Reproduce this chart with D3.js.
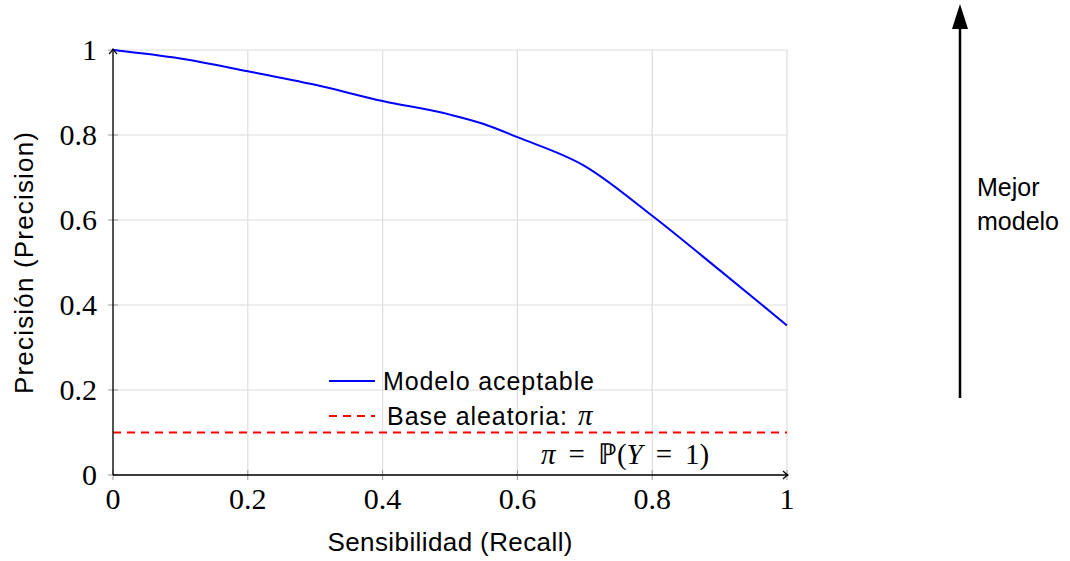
<!DOCTYPE html>
<html>
<head>
<meta charset="utf-8">
<script src="https://cdn.jsdelivr.net/npm/d3@7"></script>
<style>
  body { margin: 0; background: #fff; }
  .tick-label { font-family: "Liberation Serif", serif; font-size: 30px; fill: #000; }
  .sans { font-family: "Liberation Sans", sans-serif; fill: #000; }
</style>
</head>
<body>
<div id="chart"></div>
<script>
// data
var recall    = [0, 0.1, 0.2, 0.3, 0.4, 0.5, 0.55, 0.6, 0.7, 0.8, 0.9, 1.0];
var precision = [1.0, 0.98, 0.95, 0.918, 0.88, 0.848, 0.826, 0.795, 0.727, 0.61, 0.482, 0.352];
var baseline = 0.1;
var xTicks = [0, 0.2, 0.4, 0.6, 0.8, 1];
var yTicks = [0, 0.2, 0.4, 0.6, 0.8, 1];
var tickText = ["0", "0.2", "0.4", "0.6", "0.8", "1"];

var svgWidth = 1070, svgHeight = 561;
var margin = { left: 113, top: 50 };
var width = 674, height = 425;

var svg = d3.select("#chart").append("svg")
    .attr("width", svgWidth)
    .attr("height", svgHeight);

var defs = svg.append("defs");
defs.append("marker")
    .attr("id", "tip")
    .attr("viewBox", "-6 -5 8 10")
    .attr("refX", 0).attr("refY", 0)
    .attr("markerWidth", 8).attr("markerHeight", 10)
    .attr("markerUnits", "userSpaceOnUse")
    .attr("orient", "auto")
    .append("path")
    .attr("d", "M-5,-4 Q-2,-1 0,0 Q-2,1 -5,4")
    .attr("fill", "none")
    .attr("stroke", "#000")
    .attr("stroke-width", 1.2);

var g = svg.append("g")
    .attr("transform", `translate(${margin.left}, ${margin.top})`);

var x = d3.scaleLinear().domain([0, 1]).range([0, width]);
var y = d3.scaleLinear().domain([0, 1]).range([height, 0]);

// grid
g.selectAll(".vgrid").data(xTicks).enter().append("line")
    .attr("x1", d => x(d)).attr("x2", d => x(d))
    .attr("y1", 0).attr("y2", height)
    .attr("stroke", "#dedede").attr("stroke-width", 1.2);
g.selectAll(".hgrid").data(yTicks).enter().append("line")
    .attr("x1", 0).attr("x2", width)
    .attr("y1", d => y(d)).attr("y2", d => y(d))
    .attr("stroke", "#dedede").attr("stroke-width", 1.2);

// tick marks
g.selectAll(".xt").data(xTicks).enter().append("line")
    .attr("x1", d => x(d)).attr("x2", d => x(d))
    .attr("y1", height - 5).attr("y2", height + 5)
    .attr("stroke", "#999").attr("stroke-width", 1);
g.selectAll(".yt").data(yTicks).enter().append("line")
    .attr("x1", -5).attr("x2", 5)
    .attr("y1", d => y(d)).attr("y2", d => y(d))
    .attr("stroke", "#999").attr("stroke-width", 1);

// tick labels
g.selectAll(".xl").data(xTicks).enter().append("text")
    .attr("class", "tick-label")
    .attr("x", d => x(d)).attr("y", height + 34)
    .attr("text-anchor", "middle")
    .text((d, i) => tickText[i]);
g.selectAll(".yl").data(yTicks).enter().append("text")
    .attr("class", "tick-label")
    .attr("x", -16).attr("y", d => y(d) + 10)
    .attr("text-anchor", "end")
    .text((d, i) => tickText[i]);

// baseline
g.append("line")
    .attr("x1", x(0)).attr("x2", x(1))
    .attr("y1", y(baseline)).attr("y2", y(baseline))
    .attr("stroke", "#ff0000").attr("stroke-width", 2)
    .attr("stroke-dasharray", "8,6");

// curve
var line = d3.line()
    .x((d, i) => x(recall[i]))
    .y(d => y(d))
    .curve(d3.curveMonotoneX);
g.append("path")
    .datum(precision)
    .attr("d", line)
    .attr("fill", "none")
    .attr("stroke", "#0000ff")
    .attr("stroke-width", 2);

// axes with arrows
g.append("line")
    .attr("x1", 0).attr("x2", width + 1)
    .attr("y1", height).attr("y2", height)
    .attr("stroke", "#000").attr("stroke-width", 1.3)
    .attr("marker-end", "url(#tip)");
g.append("line")
    .attr("x1", 0).attr("x2", 0)
    .attr("y1", height).attr("y2", -1)
    .attr("stroke", "#000").attr("stroke-width", 1.3)
    .attr("marker-end", "url(#tip)");

// legend
var leg = g.append("g").attr("transform", "translate(216, 331)");
leg.append("line").attr("x1", 0).attr("x2", 46).attr("y1", 0).attr("y2", 0)
    .attr("stroke", "#0000ff").attr("stroke-width", 2);
leg.append("text").attr("class", "sans").attr("x", 54).attr("y", 9)
    .attr("font-size", 25).attr("textLength", 211).text("Modelo aceptable");
leg.append("line").attr("x1", 0).attr("x2", 46).attr("y1", 35).attr("y2", 35)
    .attr("stroke", "#ff0000").attr("stroke-width", 2)
    .attr("stroke-dasharray", "8,6");
var t2 = leg.append("text").attr("class", "sans").attr("y", 44)
    .attr("font-size", 25);
t2.append("tspan").attr("x", 58).attr("textLength", 180).text("Base aleatoria:");
t2.append("tspan").attr("dx", 10).attr("font-family", "Liberation Serif, serif")
    .attr("font-style", "italic").attr("font-size", 29).text("π");

// annotation
var ann = g.append("text")
    .attr("x", 428).attr("y", y(0.05) + 10)
    .attr("font-family", "Liberation Serif, serif")
    .attr("font-size", 29);
ann.append("tspan").attr("font-style", "italic").text("π");
ann.append("tspan").attr("dx", 13).text("=");
ann.append("tspan").attr("dx", 13).text("ℙ(");
ann.append("tspan").attr("font-style", "italic").text("Y");
ann.append("tspan").attr("dx", 13).text("=");
ann.append("tspan").attr("dx", 13).text("1)");

// axis titles
svg.append("text").attr("class", "sans")
    .attr("font-size", 26)
    .attr("text-anchor", "middle")
    .attr("textLength", 245)
    .attr("transform", `translate(450, 551)`)
    .text("Sensibilidad (Recall)");
svg.append("text").attr("class", "sans")
    .attr("font-size", 26)
    .attr("text-anchor", "middle")
    .attr("textLength", 262)
    .attr("transform", `translate(33, 263) rotate(-90)`)
    .text("Precisión  (Precision)");

// "better model" arrow
svg.append("line")
    .attr("x1", 960).attr("x2", 960)
    .attr("y1", 398).attr("y2", 26)
    .attr("stroke", "#000").attr("stroke-width", 2.5);
svg.append("path")
    .attr("d", "M960,4 L968,29 L952,29 Z")
    .attr("fill", "#000");
svg.append("text").attr("class", "sans")
    .attr("font-size", 25).attr("x", 977).attr("y", 196)
    .text("Mejor");
svg.append("text").attr("class", "sans")
    .attr("font-size", 25).attr("x", 977).attr("y", 230)
    .text("modelo");
</script>
</body>
</html>
